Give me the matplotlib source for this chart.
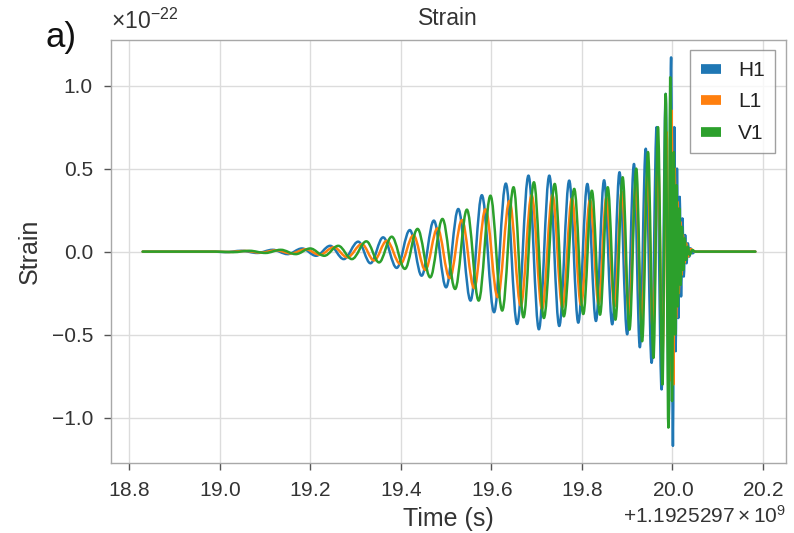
import matplotlib
matplotlib.use("Agg")
import matplotlib.pyplot as plt
from matplotlib.path import Path
from matplotlib.patches import PathPatch
from matplotlib.lines import Line2D
from matplotlib.ticker import ScalarFormatter, MultipleLocator, FuncFormatter

plt.rcParams["font.family"] = ["Liberation Sans", "DejaVu Sans"]
plt.rcParams["mathtext.fontset"] = "custom"
plt.rcParams["mathtext.rm"] = "Liberation Sans"
plt.rcParams["mathtext.it"] = "Liberation Sans:italic"
plt.rcParams["mathtext.bf"] = "Liberation Sans:bold"

# GPS epoch of the event window and strain unit
GPS_OFFSET = 1192529700
STRAIN_UNIT = 1e-22

detectors = ["H1", "L1", "V1"]
colors = ["#1f77b4", "#ff7f0e", "#2ca02c"]

# Successive extrema of each whitened waveform: time after GPS_OFFSET (s), strain (1e-22)
h1_times = [18.83, 18.99, 19.012, 19.048, 19.083, 19.117, 19.150, 19.182, 19.213, 19.244,
            19.274, 19.306, 19.333, 19.361, 19.391, 19.420, 19.446, 19.473, 19.500, 19.527,
            19.554, 19.579, 19.606, 19.632, 19.657, 19.682, 19.705, 19.728, 19.750, 19.772,
            19.792, 19.812, 19.831, 19.849, 19.867, 19.883, 19.900, 19.915, 19.928, 19.941,
            19.954, 19.965, 19.976, 19.985, 19.992, 19.997, 20.001, 20.004, 20.007, 20.010,
            20.013, 20.016, 20.019, 20.022, 20.025, 20.028, 20.031, 20.034, 20.037, 20.040,
            20.044, 20.050, 20.183]
h1_values = [0.0, 0.0, -0.003, 0.005, -0.008, 0.011, -0.015, 0.019, -0.025, 0.035,
             -0.045, 0.060, -0.070, 0.086, -0.098, 0.130, -0.145, 0.187, -0.215, 0.257,
             -0.295, 0.340, -0.365, 0.410, -0.436, 0.458, -0.468, 0.458, -0.448, 0.428,
             -0.428, 0.408, -0.418, 0.430, -0.438, 0.478, -0.498, 0.528, -0.576, 0.620,
             -0.670, 0.750, -0.830, 0.950, -1.000, 1.170, -1.170, 0.750, -0.600, 0.500,
             -0.400, 0.330, -0.270, 0.200, -0.150, 0.100, -0.070, 0.050, -0.030, 0.020,
             -0.010, 0.0, 0.0]

l1_times = [18.83, 18.99, 19.020, 19.056, 19.091, 19.125, 19.158, 19.190, 19.221, 19.252,
            19.282, 19.314, 19.341, 19.369, 19.399, 19.428, 19.454, 19.481, 19.508, 19.535,
            19.562, 19.587, 19.614, 19.640, 19.665, 19.689, 19.712, 19.735, 19.757, 19.778,
            19.798, 19.818, 19.837, 19.854, 19.872, 19.888, 19.904, 19.919, 19.932, 19.945,
            19.957, 19.968, 19.978, 19.987, 19.993, 19.998, 20.002, 20.005, 20.008, 20.011,
            20.014, 20.017, 20.020, 20.023, 20.026, 20.030, 20.034, 20.040, 20.050, 20.183]
l1_values = [0.0, 0.0, -0.002, 0.004, -0.006, 0.008, -0.011, 0.014, -0.019, 0.026,
             -0.034, 0.045, -0.053, 0.065, -0.074, 0.098, -0.110, 0.140, -0.160, 0.190,
             -0.220, 0.255, -0.275, 0.305, -0.325, 0.340, -0.345, 0.340, -0.335, 0.320,
             -0.320, 0.310, -0.315, 0.325, -0.330, 0.360, -0.375, 0.400, -0.430, 0.470,
             -0.500, 0.560, -0.620, 0.720, -0.780, 0.850, -0.800, 0.500, -0.400, 0.300,
             -0.250, 0.180, -0.140, 0.100, -0.070, 0.050, -0.030, 0.015, 0.0, 0.0]

v1_times = [18.83, 18.99, 19.030, 19.066, 19.101, 19.135, 19.168, 19.200, 19.231, 19.262,
            19.292, 19.324, 19.352, 19.380, 19.409, 19.437, 19.465, 19.492, 19.520, 19.546,
            19.572, 19.598, 19.624, 19.649, 19.671, 19.694, 19.716, 19.740, 19.760, 19.783,
            19.803, 19.822, 19.840, 19.857, 19.874, 19.890, 19.905, 19.920, 19.933, 19.946,
            19.958, 19.968, 19.978, 19.985, 19.991, 19.995, 19.999, 20.003, 20.006, 20.009,
            20.012, 20.015, 20.018, 20.021, 20.024, 20.027, 20.030, 20.034, 20.038, 20.044,
            20.050, 20.183]
v1_values = [0.0, 0.0, -0.003, 0.005, -0.008, 0.011, -0.015, 0.019, -0.025, 0.035,
             -0.045, 0.062, -0.065, 0.090, -0.104, 0.137, -0.155, 0.197, -0.225, 0.253,
             -0.295, 0.337, -0.355, 0.388, -0.396, 0.418, -0.400, 0.408, -0.390, 0.378,
             -0.376, 0.367, -0.380, 0.388, -0.410, 0.448, -0.470, 0.500, -0.540, 0.600,
             -0.640, 0.750, -0.800, 0.950, -1.060, 1.050, -0.900, 0.600, -0.500, 0.400,
             -0.330, 0.260, -0.200, 0.150, -0.110, 0.080, -0.050, 0.030, -0.020, 0.010,
             0.0, 0.0]

series = [(h1_times, h1_values), (l1_times, l1_values), (v1_times, v1_values)]

xlim_rel = (18.76, 20.25)
ylim_rel = (-1.275, 1.275)


def smooth_path(times, values, k=0.36):
    """Cubic Bezier path through extrema with flat tangents at each extremum."""
    xs = [GPS_OFFSET + t for t in times]
    ys = [v * STRAIN_UNIT for v in values]
    verts = [(xs[0], ys[0])]
    codes = [Path.MOVETO]
    for i in range(1, len(xs)):
        dx = xs[i] - xs[i - 1]
        verts += [(xs[i - 1] + k * dx, ys[i - 1]), (xs[i] - k * dx, ys[i]), (xs[i], ys[i])]
        codes += [Path.CURVE4] * 3
    return Path(verts, codes)


def strain_label(value, pos):
    return f"{value / STRAIN_UNIT:.1f}".replace("-", "\u2212")


fig = plt.figure(figsize=(7.94, 5.33), dpi=100)
ax = fig.add_axes([0.1398, 0.1308, 0.8497, 0.7942])

for (t, v), c in zip(series, colors):
    ax.add_patch(PathPatch(smooth_path(t, v), facecolor="none", edgecolor=c,
                           lw=1.8, capstyle="round", joinstyle="round"))

ax.set_xlim(GPS_OFFSET + xlim_rel[0], GPS_OFFSET + xlim_rel[1])
ax.set_ylim(ylim_rel[0] * STRAIN_UNIT, ylim_rel[1] * STRAIN_UNIT)

xfmt = ScalarFormatter(useMathText=True, useOffset=GPS_OFFSET)
ax.xaxis.set_major_formatter(xfmt)
ax.xaxis.set_major_locator(MultipleLocator(0.2))
ax.yaxis.set_major_formatter(FuncFormatter(strain_label))
ax.yaxis.set_major_locator(MultipleLocator(0.5 * STRAIN_UNIT))

ax.grid(True, color="#dcdcdc", lw=1.0)
ax.set_axisbelow(True)
for sp in ax.spines.values():
    sp.set_color("#a8a8a8")
    sp.set_linewidth(1.0)
ax.tick_params(axis="both", direction="out", length=5, width=1.0, color="#555555",
               labelsize=15, labelcolor="#333333", pad=8)
ax.xaxis.get_offset_text().set_fontsize(15)
ax.xaxis.get_offset_text().set_color("#333333")

# scale factor of the strain axis, placed above the top-left corner
ax.text(0.0, 1.025, r"$\times10^{-22}$", transform=ax.transAxes, fontsize=16.5,
        color="#333333", ha="left", va="baseline")

ax.set_title("Strain", fontsize=16.5, color="#333333", pad=11)
ax.set_xlabel("Time (s)", fontsize=18, color="#333333", labelpad=5)
ax.set_ylabel("Strain", fontsize=18, color="#333333", labelpad=7)

handles = [Line2D([], [], color=c, lw=7, solid_capstyle="butt") for c in colors]
leg = ax.legend(handles, detectors, loc="upper right", fontsize=15, frameon=True,
                fancybox=False, edgecolor="#888888", handlelength=1.0,
                handletextpad=0.8, borderpad=0.5, labelspacing=0.6,
                borderaxespad=0.5)
leg.get_frame().set_linewidth(1.0)
for txt in leg.get_texts():
    txt.set_color("#222222")

fig.text(0.057, 0.912, "a)", fontsize=25, color="#111111", va="baseline")

fig.savefig("out.png", dpi=100)
